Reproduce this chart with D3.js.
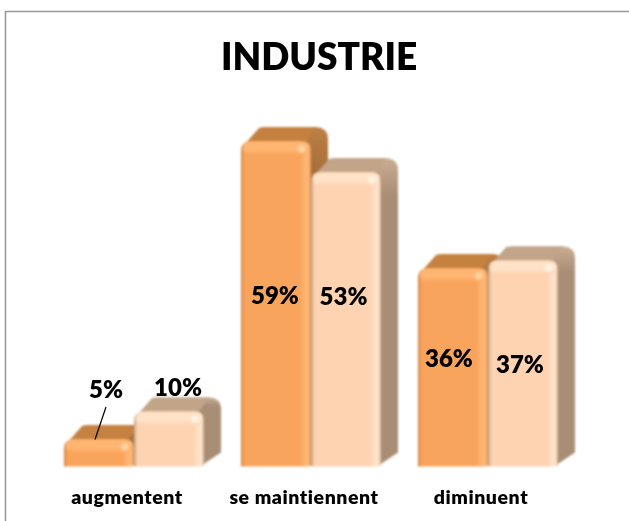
<!DOCTYPE html>
<html>
<head>
<meta charset="utf-8">
<script src="https://cdn.jsdelivr.net/npm/d3@7"></script>
<style>
html, body { margin: 0; padding: 0; background: #fff; overflow: hidden; }
svg { display: block; }
text { font-family: Lato, "Open Sans", sans-serif; font-weight: 800; fill: #000; }
</style>
</head>
<body>
<div id="chart"></div>
<script>
var width = 629
var height = 521

var title = 'INDUSTRIE'
var categories = ['augmentent', 'se maintiennent', 'diminuent']
var seriesNames = ['a', 'b']
// bar heights, the labels show them rounded
var seriesA = [5, 59, 36]
var seriesB = [10, 53.4, 37.4]

// hand placed labels in the original: shift from the bar centre, and baseline
var labelShiftA = [7, -1, -4]
var labelShiftB = [9, -2.5, -3]
var labelBaseA = [398, 304, 367]
var labelBaseB = [396, 305, 373]

var seriesColors = {
    a: { front: '#f9a45c', edge: '#cf8443', band: '#ffb673', shine: '#ffdcae', top: '#c4813f', side: '#a8703a', corner: '#bd7f45' },
    b: { front: '#fdd3b1', edge: '#bfa185', band: '#ffe2c8', shine: '#fff8ea', top: '#c2a488', side: '#a98e76', corner: '#c9ae94' }
}

var baseline = 466.5
var depthX = 17
var depthY = 14

var x = d3.scaleBand()
    .domain(categories)
    .range([64, 558])
    .paddingInner(0.209)
    .paddingOuter(0)

var xInner = d3.scaleBand()
    .domain(seriesNames)
    .range([0, x.bandwidth()])

var y = d3.scaleLinear()
    .domain([0, 60])
    .range([baseline, baseline - 331])

var svg = d3.select('#chart').append('svg')
    .attr('width', width)
    .attr('height', height)

var defs = svg.append('defs')

defs.append('filter')
    .attr('id', 'soft')
    .attr('x', '-10%').attr('y', '-10%')
    .attr('width', '120%').attr('height', '120%')
    .append('feGaussianBlur')
    .attr('stdDeviation', 0.8)

defs.append('filter')
    .attr('id', 'glow')
    .attr('x', '-100%').attr('y', '-100%')
    .attr('width', '300%').attr('height', '300%')
    .append('feGaussianBlur')
    .attr('stdDeviation', 1.6)

seriesNames.forEach(function(s) {
    var c = seriesColors[s]
    var grad = defs.append('linearGradient').attr('id', 'front-' + s)
    var stops = [
        [0, c.edge], [0.05, c.front], [0.84, c.front], [0.92, c.band], [0.97, c.band], [1, c.edge]
    ]
    stops.forEach(function(st) {
        grad.append('stop').attr('offset', st[0]).attr('stop-color', st[1])
    })
    var band = defs.append('linearGradient')
        .attr('id', 'band-' + s)
        .attr('x1', 0).attr('y1', 0).attr('x2', 0).attr('y2', 1)
    band.append('stop').attr('offset', 0).attr('stop-color', c.band)
    band.append('stop').attr('offset', 0.6).attr('stop-color', c.band)
    band.append('stop').attr('offset', 1).attr('stop-color', c.front)
    var side = defs.append('linearGradient')
        .attr('id', 'side-' + s)
        .attr('x1', 0).attr('y1', 0).attr('x2', 0).attr('y2', 1)
        .attr('gradientUnits', 'objectBoundingBox')
    side.append('stop').attr('offset', 0).attr('stop-color', c.corner)
    side.append('stop').attr('offset', 0.12).attr('stop-color', c.side)
    side.append('stop').attr('offset', 1).attr('stop-color', c.side)
})

// rounded on top, nearly square at the foot
function frontPath(x0, top, w) {
    var r = 10
    var f = 3
    return 'M' + x0 + ',' + baseline +
        'V' + (top + r) +
        'Q' + x0 + ',' + top + ' ' + (x0 + r) + ',' + top +
        'H' + (x0 + w - r) +
        'Q' + (x0 + w) + ',' + top + ' ' + (x0 + w) + ',' + (top + r) +
        'V' + (baseline - f) +
        'Q' + (x0 + w) + ',' + baseline + ' ' + (x0 + w - f) + ',' + baseline + 'Z'
}

function sidePath(x0, top, w) {
    var r = 10
    return 'M' + (x0 + w - r) + ',' + (top + 2) +
        'L' + (x0 + w + depthX - r - 4) + ',' + (top - depthY) +
        'Q' + (x0 + w + depthX) + ',' + (top - depthY) + ' ' + (x0 + w + depthX) + ',' + (top - depthY + r + 2) +
        'V' + (baseline - depthY) +
        'L' + (x0 + w - 4) + ',' + baseline + 'Z'
}

function topPath(x0, top, w) {
    var r = 8
    return 'M' + (x0 + 3) + ',' + (top + 4) +
        'L' + (x0 + depthX + 1) + ',' + (top - depthY + 1) +
        'Q' + (x0 + depthX + 3) + ',' + (top - depthY) + ' ' + (x0 + depthX + r) + ',' + (top - depthY) +
        'H' + (x0 + w + depthX - r - 4) +
        'L' + (x0 + w - r) + ',' + (top + 4) + 'Z'
}

var rows = []
categories.forEach(function(cat, i) {
    rows.push({ cat: cat, s: 'a', value: seriesA[i], shift: labelShiftA[i], base: labelBaseA[i] })
    rows.push({ cat: cat, s: 'b', value: seriesB[i], shift: labelShiftB[i], base: labelBaseB[i] })
})

// frame of the pasted chart
svg.append('path')
    .attr('d', 'M' + width + ',11.5H5.5V' + height)
    .attr('fill', 'none')
    .attr('stroke', '#9a9a9a')
    .attr('stroke-width', 1.6)

var bars = svg.append('g')
    .attr('class', 'bars')
    .attr('filter', 'url(#soft)')
    .selectAll('g')
    .data(rows)
    .enter().append('g')

function barX(d) { return x(d.cat) + xInner(d.s) }

bars.append('path')
    .attr('d', function(d) { return sidePath(barX(d), y(d.value), xInner.bandwidth()) })
    .attr('fill', function(d) { return 'url(#side-' + d.s + ')' })

bars.append('path')
    .attr('d', function(d) { return topPath(barX(d), y(d.value), xInner.bandwidth()) })
    .attr('fill', function(d) { return seriesColors[d.s].top })

bars.append('path')
    .attr('d', function(d) { return frontPath(barX(d), y(d.value), xInner.bandwidth()) })
    .attr('fill', function(d) { return 'url(#front-' + d.s + ')' })

// lighter strip under the top edge
bars.append('rect')
    .attr('x', function(d) { return barX(d) + 2 })
    .attr('y', function(d) { return y(d.value) + 1 })
    .attr('width', xInner.bandwidth() - 4)
    .attr('height', 13)
    .attr('rx', 7)
    .attr('fill', function(d) { return 'url(#band-' + d.s + ')' })

bars.append('circle')
    .attr('cx', function(d) { return barX(d) + xInner.bandwidth() - 9 })
    .attr('cy', function(d) { return y(d.value) + 8 })
    .attr('r', 3.5)
    .attr('fill', function(d) { return seriesColors[d.s].shine })
    .attr('filter', 'url(#glow)')

svg.append('text')
    .attr('x', 319)
    .attr('y', 70)
    .attr('text-anchor', 'middle')
    .attr('font-size', 37)
    .text(title)

svg.append('g')
    .selectAll('text')
    .data(categories)
    .enter().append('text')
    .attr('x', function(d) { return x(d) + x.bandwidth() / 2 - 7 })
    .attr('y', 504)
    .attr('text-anchor', 'middle')
    .attr('font-size', 19.5)
    .attr('letter-spacing', 0.55)
    .text(function(d) { return d })

svg.append('g')
    .selectAll('text')
    .data(rows)
    .enter().append('text')
    .attr('x', function(d) { return barX(d) + xInner.bandwidth() / 2 + d.shift })
    .attr('y', function(d) { return d.base })
    .attr('text-anchor', 'middle')
    .attr('font-size', 24)
    .text(function(d) { return Math.round(d.value) + '%' })

// leader from the 5% label down to its bar
var first = rows[0]
svg.append('line')
    .attr('x1', barX(first) + 42)
    .attr('y1', 407)
    .attr('x2', barX(first) + 31)
    .attr('y2', 439.5)
    .attr('stroke', '#000')
    .attr('stroke-width', 1.2)
</script>
</body>
</html>
